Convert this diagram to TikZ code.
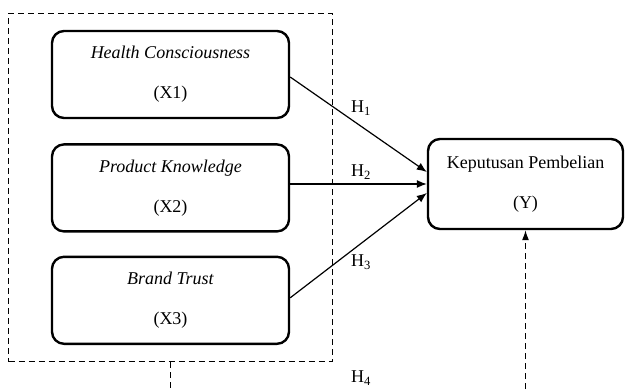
\documentclass[tikz,border=0pt]{standalone}
\usepackage{fontspec}
\setmainfont{Liberation Serif}
\usetikzlibrary{arrows.meta, positioning, fit}
\tikzstyle{varbox} = [rectangle, minimum width=237pt, minimum height=87pt, align=center, draw=black, line width=2.4pt, rounded corners=12pt, font=\fontsize{18}{40}\selectfont]
\tikzstyle{groupbox} = [rectangle, draw=black, line width=1.2pt, dash pattern=on 6pt off 4pt, inner xsep=42pt, inner ysep=16.5pt]
\tikzstyle{arrow} = [line width=1.2pt, ->, >={Latex[length=10pt,width=8pt]}]
\tikzstyle{dasharrow} = [line width=1.2pt, dash pattern=on 6pt off 4pt, ->, >={Latex[length=10pt,width=7pt]}]
\tikzstyle{hyp} = [font=\fontsize{18}{20}\selectfont, inner sep=0pt]

\begin{document}
\begin{tikzpicture}[x=1pt, y=-1pt, node distance=24pt]
    \useasboundingbox (0,0) rectangle (625,389);

    \node (x1) [varbox] at (170.5,74.5) {\textit{Health Consciousness} \\ (X1)};
    \node (x2) [varbox, below=24pt of x1] {\textit{Product Knowledge} \\ (X2)};
    \node (x3) [varbox, below=23pt of x2] {\textit{Brand Trust} \\ (X3)};
    \node (grp) [groupbox, fit=(x1)(x3)] {};
    \node (y) [varbox, minimum width=195pt, minimum height=90pt] at (525.5,184) {Keputusan Pembelian \\ (Y)};

    \node (h1) [hyp] at (361,108) {H\textsubscript{1}};
    \node (h2) [hyp] at (361,172) {H\textsubscript{2}};
    \node (h3) [hyp] at (361,262) {H\textsubscript{3}};
    \node (h4) [hyp] at (361,378) {H\textsubscript{4}};

    \coordinate (g4) at (grp.south |- 0,389);
    \coordinate (y4) at (y.south |- 0,389);

    \draw [arrow] ([yshift=-2.5pt]x1.east) -- ([yshift=12pt]y.west);
    \draw [arrow] (x2.east |- y.west) -- (y.west);
    \draw [arrow] ([yshift=2.5pt]x3.east) -- ([yshift=-9pt]y.west);
    \draw [line width=1.2pt, dash pattern=on 6pt off 4pt] (grp.south) -- (g4);
    \draw [dasharrow] (y4) -- (y.south);
\end{tikzpicture}
\end{document}
